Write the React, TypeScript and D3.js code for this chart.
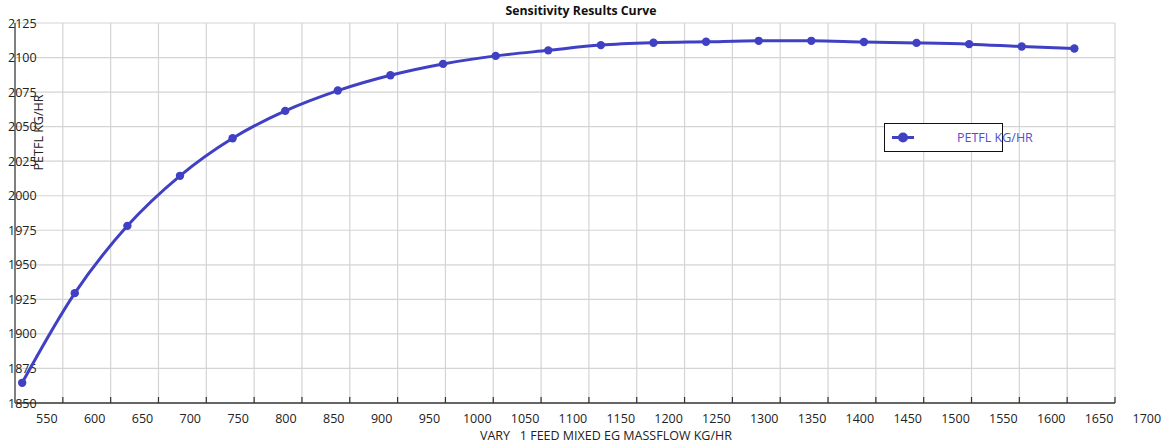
import React from "react";
import * as d3 from "d3";

const xValues = [507.5, 562.5, 617.5, 672.5, 727.5, 782.5, 837.5, 892.5, 947.5, 1002.5, 1057.5, 1112.5, 1167.5, 1222.5, 1277.5, 1332.5, 1387.5, 1442.5, 1497.5, 1552.5, 1607.5];
const petfl = [1864.6, 1929.5, 1978.2, 2014.4, 2041.6, 2061.4, 2076.1, 2087.2, 2095.4, 2101.2, 2105.2, 2109.0, 2110.7, 2111.4, 2112.1, 2112.1, 2111.2, 2110.6, 2109.7, 2108.0, 2106.5];
const xTicks = [550, 600, 650, 700, 750, 800, 850, 900, 950, 1000, 1050, 1100, 1150, 1200, 1250, 1300, 1350, 1400, 1450, 1500, 1550, 1600, 1650];
const xTickLabels = [550, 600, 650, 700, 750, 800, 850, 900, 950, 1000, 1050, 1100, 1150, 1200, 1250, 1300, 1350, 1400, 1450, 1500, 1550, 1600, 1650, 1700];
const yTicks = [1850, 1875, 1900, 1925, 1950, 1975, 2000, 2025, 2050, 2075, 2100, 2125];

const title = "Sensitivity Results Curve";
const xTitle = "VARY   1 FEED MIXED EG MASSFLOW KG/HR";
const yTitle = "PETFL KG/HR";
const seriesName = "PETFL KG/HR";

const FONT = "'Open Sans', 'Noto Sans', sans-serif";
const LINE = "#4040c4";

export default function App() {
  const W = 1168, H = 446;
  const x = d3.scaleLinear().domain([500, 1650]).range([15, 1115]);
  const y = d3.scaleLinear().domain([1850, 2125]).range([403, 23]);
  const pts = xValues.map((v, i) => [v, petfl[i]] as [number, number]);
  const line = d3.line<[number, number]>().x(d => x(d[0])).y(d => y(d[1])).curve(d3.curveMonotoneX);
  const labelShift = -16;

  return (
    <svg width={W} height={H} style={{ position: "absolute", left: 0, top: 0, background: "#fff" }} fontFamily={FONT}>
      <rect x={0} y={0} width={W} height={H} fill="#fff" />
      {/* grid */}
      {xTicks.map(t => (
        <line key={"gx" + t} x1={x(t)} x2={x(t)} y1={y(2125)} y2={y(1850)} stroke="#d4d4d4" strokeWidth={1.2} />
      ))}
      {yTicks.filter(t => t !== 1850).map(t => (
        <line key={"gy" + t} x1={x(500)} x2={x(1650)} y1={y(t)} y2={y(t)} stroke="#d4d4d4" strokeWidth={1.2} />
      ))}
      {/* axes */}
      <line x1={x(500)} x2={x(1650)} y1={y(1850)} y2={y(1850)} stroke="#333" strokeWidth={1.5} />
      <line x1={x(500)} x2={x(500)} y1={y(2125)} y2={y(1850)} stroke="#555" strokeWidth={1.5} />
      {xTicks.map(t => (
        <line key={"tx" + t} x1={x(t)} x2={x(t)} y1={y(1850)} y2={y(1850) - 6} stroke="#333" strokeWidth={1.2} />
      ))}
      {xTickLabels.map(t => (
        <text key={"lx" + t} x={x(t) + labelShift} y={423} textAnchor="middle" fontSize={12.5} fill="#222">{t}</text>
      ))}
      {yTicks.map(t => (
        <text key={"ly" + t} x={8} y={y(t)} dominantBaseline="central" fontSize={12.5} fill="#222">{t}</text>
      ))}
      {/* titles */}
      <text x={581} y={15} textAnchor="middle" fontSize={12.3} fontWeight="bold" fill="#111">{title}</text>
      <text x={606} y={440} textAnchor="middle" fontSize={12.5} fill="#222" style={{ whiteSpace: "pre" }} xmlSpace="preserve">{xTitle}</text>
      <text transform={`translate(43,132.5) rotate(-90)`} textAnchor="middle" fontSize={12.5} fill="#222">{yTitle}</text>
      {/* series */}
      <path d={line(pts) || ""} fill="none" stroke={LINE} strokeWidth={3} />
      {pts.map((p, i) => (
        <circle key={"p" + i} cx={x(p[0])} cy={y(p[1])} r={4.2} fill={LINE} />
      ))}
      {/* legend */}
      <rect x={884.5} y={123.5} width={118} height={28} fill="#fff" stroke="#111" strokeWidth={1} />
      <line x1={892} x2={914} y1={137.5} y2={137.5} stroke={LINE} strokeWidth={3} />
      <circle cx={903} cy={137.5} r={5} fill={LINE} />
      <text x={957} y={137.5} dominantBaseline="central" fontSize={12.5} fill="#5050d0">{seriesName}</text>
    </svg>
  );
}
